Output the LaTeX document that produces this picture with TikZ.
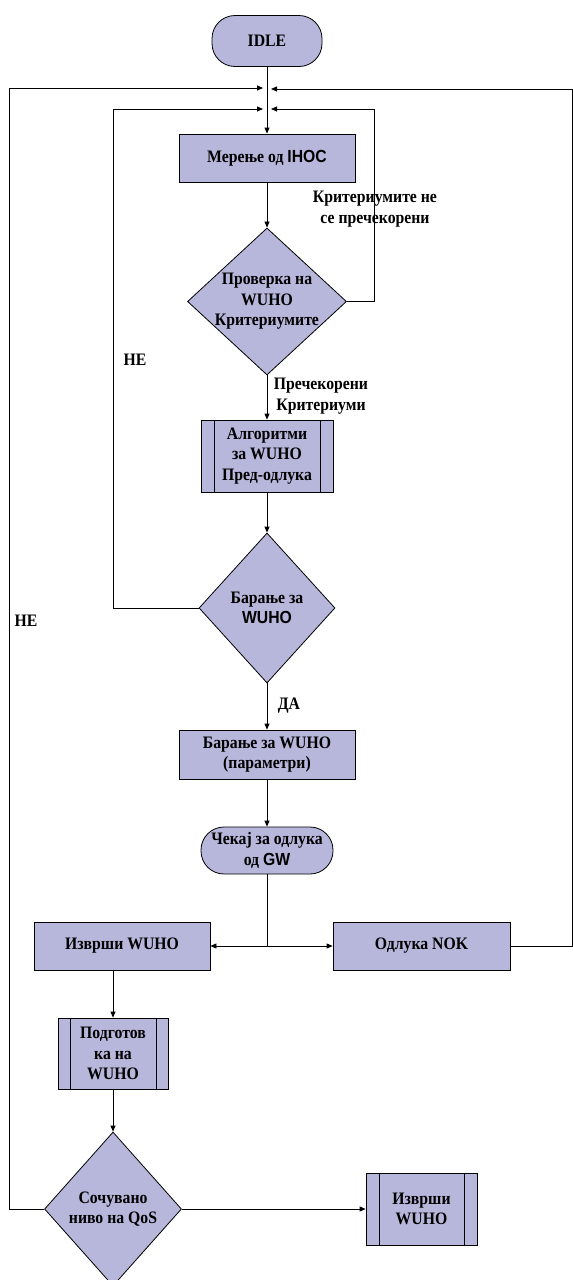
\documentclass[tikz,border=0pt]{standalone}
\usepackage{fontspec}
\setmainfont{Liberation Serif}[FakeStretch=0.9]
\newfontfamily\arialfont{Liberation Sans}[FakeStretch=0.9]
\usetikzlibrary{shapes.geometric,arrows.meta}
\definecolor{boxfill}{RGB}{183,183,220}

\begin{document}
\begin{tikzpicture}[x=1pt,y=-1pt,
    font=\fontsize{17.5}{20.5}\selectfont\bfseries,
    base/.style={draw=black,fill=boxfill,line width=0.8pt,align=center,inner sep=0pt},
    proc/.style 2 args={base,rectangle,minimum width=#1,minimum height=#2},
    term/.style 2 args={base,rectangle,rounded corners=23pt,minimum width=#1,minimum height=#2},
    dec/.style n args={3}{base,diamond,inner sep=-5pt,aspect=#3,minimum width=#1,minimum height=#2},
    subproc/.style n args={3}{base,rectangle,minimum width=#1,minimum height=#2,
      path picture={\draw[line width=0.8pt]
        ([xshift=#3]path picture bounding box.north west) -- ([xshift=#3]path picture bounding box.south west)
        ([xshift=-#3]path picture bounding box.north east) -- ([xshift=-#3]path picture bounding box.south east);}},
    lbl/.style={align=center,inner sep=0pt},
    arr/.style={line width=0.8pt,-{Triangle[length=6pt,width=5pt]}},
    ln/.style={line width=0.8pt}]
  \useasboundingbox (0,0) rectangle (573,1280);

  % Main column
  \node[term={110}{51}] (idle) at (267,41) {IDLE};
  \node[proc={176}{48}] (meas) at (267,158) {Мерење од {\arialfont IHOC}};
  \node[dec={159}{147}{1.08}] (check) at (267,301.5) {Проверка на\\WUHO\\Критериумите};
  \node[subproc={132}{72}{13pt}] (algo) at (267,456) {Алгоритми\\за WUHO\\Пред-одлука};
  \node[dec={136}{150}{0.9}] (req) at (267,608) {Барање за\\{\arialfont WUHO}};
  \node[proc={176}{49}] (reqpar) at (267,754.5) {Барање за WUHO\\(параметри)};
  \node[term={132}{47}] (wait) at (267,850.5) {Чекај за одлука\\од {\arialfont GW}};

  % Branches after the decision
  \node[proc={176}{48}] (exec) at (122,946) {Изврши WUHO};
  \node[proc={177}{48}] (nok) at (421.5,946) {Одлука NOK};
  \node[subproc={110}{71}{12pt}] (prep) at (113,1053.5) {Подготов\\ка на\\WUHO};
  \node[dec={137}{154}{0.9}] (qos) at (113,1209) {Сочувано\\ниво на QoS};
  \node[subproc={111}{72}{13pt}] (run) at (421.5,1209) {Изврши\\WUHO};

  % Junction points of the loops
  \coordinate (jl1) at (263,88);
  \coordinate (jr1) at (271,89);
  \coordinate (jl2) at (263,109);
  \coordinate (jr2) at (271,109);
  \coordinate (ol) at (9.5,88);
  \coordinate (orc) at (572,89);
  \coordinate (il) at (113,109);
  \coordinate (ir) at (374,109);
  \coordinate (split) at (267,946);

  % Straight flow
  \draw[arr] (idle) -- (meas);
  \draw[arr] (meas) -- (check);
  \draw[arr] (check) -- (algo);
  \draw[arr] (algo) -- (req);
  \draw[arr] (req) -- (reqpar);
  \draw[arr] (reqpar) -- (wait);
  \draw[ln] (wait) -- (split);
  \draw[arr] (split) -- (exec);
  \draw[arr] (split) -- (nok);
  \draw[arr] (prep |- exec.south) -- (prep);
  \draw[arr] (prep) -- (qos);
  \draw[arr] (qos) -- (run);

  % Loops back to the top
  \draw[arr] (check.east) -| (ir) -- (jr2);
  \draw[arr] (req.west) -| (il) -- (jl2);
  \draw[arr] (qos.west) -| (ol) -- (jl1);
  \draw[arr] (nok.east) -| (orc) -- (jr1);

  % Labels
  \node[lbl] (lblnot) at (375,209) {Критериумите не\\се пречекорени};
  \node[lbl] (lblover) at (321,396) {Пречекорени\\Критериуми};
  \node[lbl] (lblno1) at (135,360) {НЕ};
  \node[lbl] (lblyes) at (289,706) {ДА};
  \node[lbl] (lblno2) at (26,621) {НЕ};
\end{tikzpicture}
\end{document}
